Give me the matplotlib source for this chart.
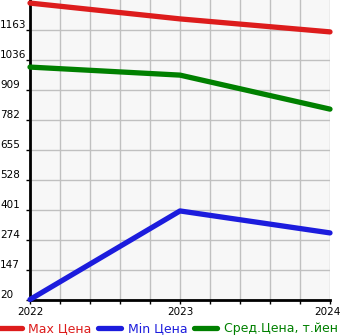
import matplotlib
matplotlib.use("Agg")
import matplotlib.pyplot as plt
from matplotlib.ticker import MultipleLocator
from matplotlib.transforms import blended_transform_factory

# data
years = [2022, 2023, 2024]
max_price = [1277, 1210, 1155]
min_price = [22, 397, 304]
avg_price = [1006, 972, 828]
ytick_vals = [20, 147, 274, 401, 528, 655, 782, 909, 1036, 1163]
series_names = ["Max Цена", "Min Цена", "Сред.Цена, т.йен"]
colors = ["#dd1c1c", "#1c1cdd", "#008000"]

fig = plt.figure(figsize=(3.45, 3.35), dpi=100)
ax = fig.add_axes([30 / 345, 35 / 335, 300 / 345, 300 / 335])
ax.set_facecolor("#f7f7f7")

for vals, name, c in zip([max_price, min_price, avg_price], series_names, colors):
    ax.plot(years, vals, color=c, lw=3.8, label=name,
            solid_capstyle="round", clip_on=False, zorder=3)

ax.set_xlim(2022, 2024)
ax.set_ylim(20, 1290)
ax.xaxis.set_major_locator(MultipleLocator(0.2))
ax.set_yticks(ytick_vals)
ax.grid(True, color="#c0c0c0", lw=1)
ax.set_axisbelow(True)
for s in ["top", "right"]:
    ax.spines[s].set_visible(False)
for s in ["left", "bottom"]:
    ax.spines[s].set_linewidth(2)
    ax.spines[s].set_color("black")
ax.tick_params(axis="both", length=3, width=1, labelleft=False, labelbottom=False)

# y labels sit above their tick, left aligned to the figure edge
tr = blended_transform_factory(fig.transFigure, ax.transData)
for v in ytick_vals:
    ax.text(0.0, v, str(v), transform=tr, ha="left", va="bottom",
            fontsize=7.5, clip_on=False)

trx = blended_transform_factory(ax.transData, fig.transFigure)
for y, ha in zip(years, ["center", "center", "right"]):
    xx = y if ha == "center" else 2024 + 0.07
    ax.text(xx, 1 - 312 / 335, str(y), transform=trx, ha=ha, va="center",
            fontsize=7.5, clip_on=False)

leg = fig.legend(loc="lower left", bbox_to_anchor=(-0.02, -0.015), ncol=3,
                 frameon=False, fontsize=9, handlelength=1.9, handletextpad=0.5,
                 columnspacing=0.5, labelcolor="linecolor", borderaxespad=0)

fig.savefig("out.png", dpi=100)
